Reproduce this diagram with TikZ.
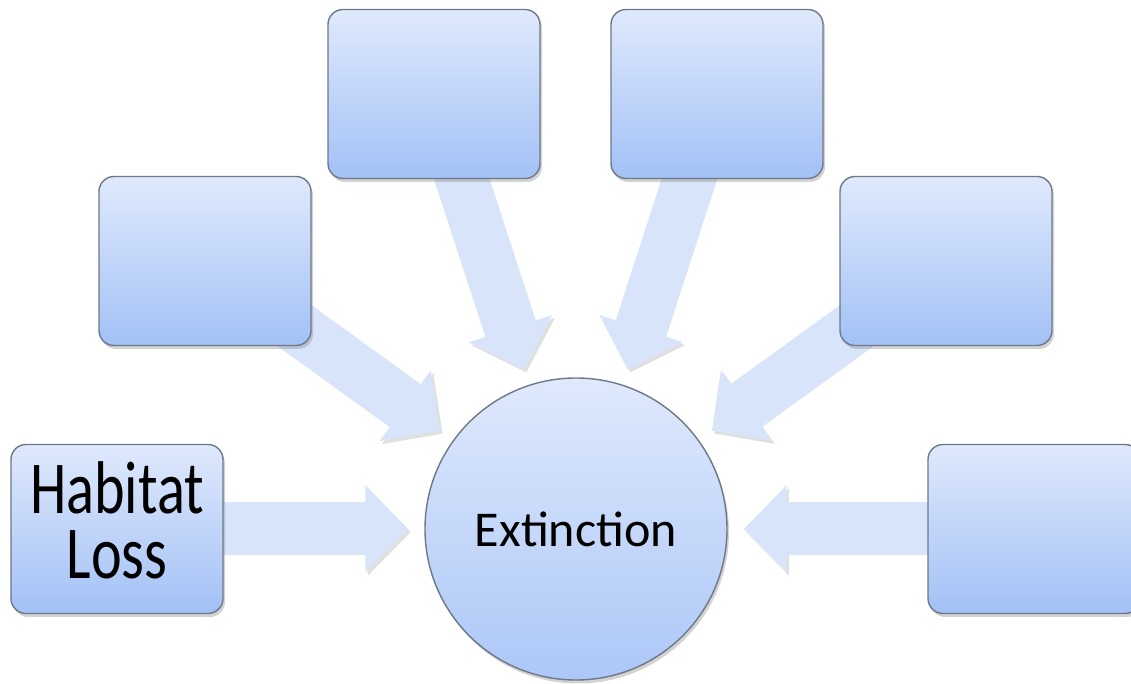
\documentclass[tikz,border=0pt]{standalone}
\usepackage{fontspec}
\setmainfont{Carlito}
\newfontfamily\narrowfont[FakeStretch=0.78]{Carlito}
\usepackage{tikz}
\usepackage{xcolor}
\usetikzlibrary{arrows.meta,shadows,backgrounds}

\definecolor{boxtop}{RGB}{223,233,252}
\definecolor{boxbottom}{RGB}{163,193,246}
\definecolor{boxline}{RGB}{110,120,135}
\definecolor{arrowblue}{RGB}{216,228,250}

\tikzset{
    cause/.style={rectangle, rounded corners=0.3cm, minimum width=4.24cm,
        minimum height=3.38cm, draw=boxline, line width=0.8pt,
        top color=boxtop, bottom color=boxbottom, inner sep=0pt, align=center,
        drop shadow={opacity=0.35, shadow xshift=0.04cm, shadow yshift=-0.07cm}},
    effect/.style={circle, minimum size=6.04cm, draw=boxline, line width=0.8pt,
        top color=boxtop, bottom color=boxbottom!90!white,
        drop shadow={opacity=0.35, shadow xshift=0.04cm, shadow yshift=-0.07cm}},
    bigarrow/.style={line width=1.06cm, draw=arrowblue,
        -{Triangle[length=0.86cm,width=1.7cm]}, shorten >=0.32cm,
        preaction={draw=black!12, transform canvas={shift={(0.05,-0.06)}}}}
}

\begin{document}
\begin{tikzpicture}
    \useasboundingbox (0,0) rectangle (22.62,13.68);

    % Centre circle
    \node[effect, font=\fontsize{28.5}{32}\selectfont] (ext) at (11.52,3.10) {Extinction};

    % Cause boxes
    \node[cause, text depth=0.36cm, font=\narrowfont\fontsize{42.5}{37}\selectfont] (habitat) at (2.34,3.10) {Habitat\\Loss};
    \node[cause] (leftmid) at (4.10,8.46) {};
    \node[cause] (topleft) at (8.68,11.80) {};
    \node[cause] (topright) at (14.34,11.80) {};
    \node[cause] (rightmid) at (18.92,8.46) {};
    \node[cause] (rightbot) at (20.68,3.10) {};

    % Arrows into the circle
    \begin{scope}[on background layer]
        \draw[bigarrow] (habitat.center) -- (ext);
        \draw[bigarrow] (leftmid.center) -- (ext);
        \draw[bigarrow] (topleft.center) -- (ext);
        \draw[bigarrow] (topright.center) -- (ext);
        \draw[bigarrow] (rightmid.center) -- (ext);
        \draw[bigarrow] (rightbot.center) -- (ext);
    \end{scope}
\end{tikzpicture}
\end{document}
